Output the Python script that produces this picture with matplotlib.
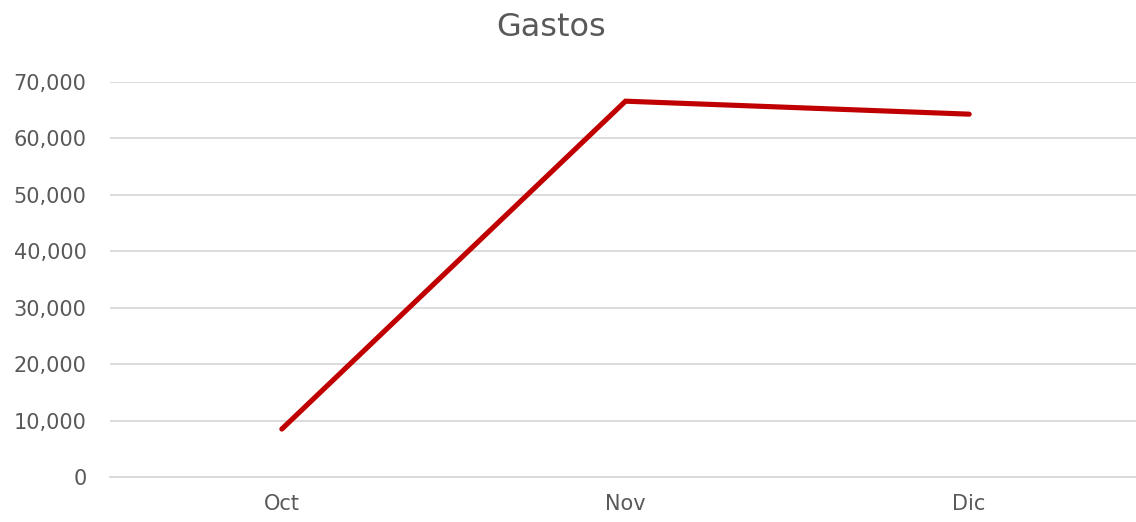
import matplotlib
matplotlib.use("Agg")
import matplotlib.pyplot as plt
from matplotlib.ticker import FuncFormatter

months = ["Oct", "Nov", "Dic"]
gastos = [8500, 66600, 64300]
yticks = [0, 10000, 20000, 30000, 40000, 50000, 60000, 70000]

plt.rcParams['font.family'] = ['DejaVu Sans']
text_color = "#595959"

fig = plt.figure(figsize=(11.36, 5.22), dpi=100)
ax = fig.add_axes([110/1136, 45/522, 1031/1136, 395/522])

x = list(range(len(months)))
ax.plot(x, gastos, color="#C00000", linewidth=3.7, solid_capstyle="round", solid_joinstyle="miter", zorder=3)

ax.set_xlim(-0.5, len(months) - 0.5)
ax.set_ylim(0, 70000)
ax.set_yticks(yticks)
ax.yaxis.set_major_formatter(FuncFormatter(lambda v, p: f"{int(v):,}"))
ax.set_xticks(x)
ax.set_xticklabels(months)

ax.grid(axis="y", color="#D9D9D9", linewidth=1.3, zorder=0)
ax.set_axisbelow(True)
for s in ["top", "right", "left"]:
    ax.spines[s].set_visible(False)
ax.spines["bottom"].set_color("#D9D9D9")
ax.spines["bottom"].set_linewidth(1.3)

ax.tick_params(axis="both", length=0, colors=text_color, labelsize=15)
ax.tick_params(axis="y", pad=17)
ax.tick_params(axis="x", pad=12)

fig.text(551/1136, 1 - 27/522, "Gastos", ha="center", va="center", fontsize=23, color=text_color)

fig.savefig("out.png", dpi=100)
